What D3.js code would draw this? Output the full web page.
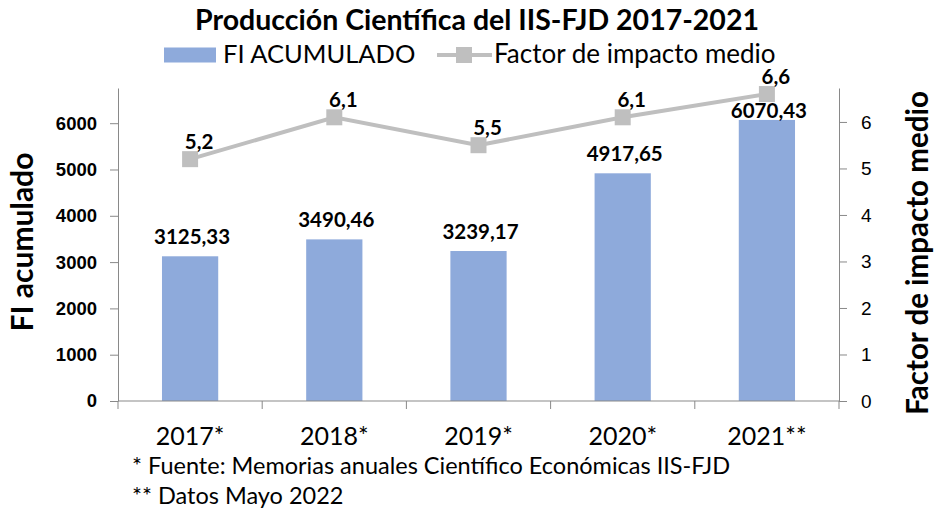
<!DOCTYPE html>
<html lang="es">
<head>
  <meta charset="UTF-8">
  <title>Producción Científica del IIS-FJD 2017-2021</title>
  <style>
    body { margin: 0; background: #fff; font-family: Lato, "Open Sans", sans-serif; }
    .axis path, .axis line { stroke: #898989; }
    .axis text { fill: #000; }
  </style>
</head>
<body>
  <svg width="936" height="519"></svg>
  <script src="https://d3js.org/d3.v7.min.js"></script>
  <script>
    const years = ["2017*", "2018*", "2019*", "2020*", "2021**"];
    const fiAcumulado = [3125.33, 3490.46, 3239.17, 4917.65, 6070.43];
    const factorMedio = [5.2, 6.1, 5.5, 6.1, 6.6];
    const leftTicks = [0, 1000, 2000, 3000, 4000, 5000, 6000];
    const rightTicks = [0, 1, 2, 3, 4, 5, 6];

    const width = 936, height = 519;
    const margin = { top: 88, right: 97, bottom: 118, left: 118 };
    const innerW = width - margin.left - margin.right;
    const innerH = height - margin.top - margin.bottom;

    const barColor = "#8eaadb", lineColor = "#bfbfbf", axisColor = "#898989";
    const fmt = v => d3.format(".2f")(v).replace(".", ",");
    const fmt1 = v => d3.format(".1f")(v).replace(".", ",");
    const markerSize = 16, labelSize = 20.5;

    const svg = d3.select("svg");
    const g = svg.append("g").attr("transform", `translate(${margin.left},${margin.top})`);

    const x = d3.scaleBand().domain(years).range([0, innerW]).paddingInner(0.61).paddingOuter(0.305);
    const xBounds = d3.scaleLinear().domain([0, years.length]).range([0, innerW]);
    const cx = d => x(d) + x.bandwidth() / 2;
    const yLeft = d3.scaleLinear().domain([0, 6760]).range([innerH, 0]);
    const yRight = d3.scaleLinear().domain([0, 6.73]).range([innerH, 0]);

    // title
    svg.append("text")
      .attr("x", 477).attr("y", 30)
      .attr("text-anchor", "middle")
      .attr("font-weight", "bold").attr("font-size", 28.5)
      .text("Producción Científica del IIS-FJD 2017-2021");

    // legend
    const lg = svg.append("g").attr("transform", "translate(164,55)");
    lg.append("rect").attr("x", 0).attr("y", -7.5).attr("width", 52).attr("height", 15).attr("fill", barColor);
    lg.append("text").attr("x", 59).attr("y", 8).attr("font-size", 25.5).text("FI ACUMULADO");
    lg.append("line").attr("x1", 273).attr("x2", 328).attr("y1", 0).attr("y2", 0)
      .attr("stroke", lineColor).attr("stroke-width", 4);
    lg.append("rect").attr("x", 300 - markerSize / 2).attr("y", -markerSize / 2)
      .attr("width", markerSize).attr("height", markerSize).attr("fill", lineColor);
    lg.append("text").attr("x", 330).attr("y", 8).attr("font-size", 26).text("Factor de impacto medio");

    // bars
    g.selectAll(".bar").data(years).join("rect")
      .attr("class", "bar")
      .attr("x", d => x(d))
      .attr("width", x.bandwidth())
      .attr("y", (d, i) => yLeft(fiAcumulado[i]))
      .attr("height", (d, i) => innerH - yLeft(fiAcumulado[i]))
      .attr("fill", barColor);

    // axes
    const xAxis = g.append("g").attr("class", "axis")
      .attr("transform", `translate(0,${innerH})`);
    xAxis.append("line").attr("x1", 0).attr("x2", innerW).attr("stroke", axisColor);
    xAxis.selectAll(".xtick").data(d3.range(years.length + 1)).join("line")
      .attr("x1", d => xBounds(d)).attr("x2", d => xBounds(d))
      .attr("y1", 0).attr("y2", 8).attr("stroke", axisColor);
    xAxis.selectAll(".xlabel").data(years).join("text")
      .attr("x", cx)
      .attr("y", 44)
      .attr("text-anchor", "middle").attr("font-size", 25)
      .text(d => d);

    g.append("g").attr("class", "axis")
      .call(d3.axisLeft(yLeft).tickValues(leftTicks).tickFormat(d3.format("d"))
        .tickSize(8).tickPadding(13).tickSizeOuter(0))
      .call(a => a.selectAll("text").attr("font-weight", "bold").attr("font-size", 18.5));

    g.append("g").attr("class", "axis")
      .attr("transform", `translate(${innerW},0)`)
      .call(d3.axisRight(yRight).tickValues(rightTicks).tickFormat(d3.format("d"))
        .tickSize(8).tickPadding(14).tickSizeOuter(0))
      .call(a => a.selectAll("text").attr("font-size", 19));

    // line series
    const line = d3.line()
      .x((d, i) => cx(years[i]))
      .y(d => yRight(d));
    g.append("path").datum(factorMedio)
      .attr("d", line).attr("fill", "none")
      .attr("stroke", lineColor).attr("stroke-width", 4);
    g.selectAll(".marker").data(factorMedio).join("rect")
      .attr("x", (d, i) => cx(years[i]) - markerSize / 2)
      .attr("y", d => yRight(d) - markerSize / 2)
      .attr("width", markerSize).attr("height", markerSize)
      .attr("fill", lineColor);
    g.selectAll(".linelabel").data(factorMedio).join("text")
      .attr("x", (d, i) => cx(years[i]) + 9)
      .attr("y", d => yRight(d) - 10)
      .attr("text-anchor", "middle")
      .attr("font-weight", "bold").attr("font-size", labelSize)
      .text(d => fmt1(d));

    // bar labels: above the bar, pushed below the marker when they would collide
    g.selectAll(".barlabel").data(years).join("text")
      .attr("class", "barlabel")
      .attr("x", d => cx(d) + 2)
      .attr("y", (d, i) => {
        const above = yLeft(fiAcumulado[i]) - 12;
        const markerBottom = yRight(factorMedio[i]) + markerSize / 2;
        return above - labelSize * 0.75 < markerBottom ? markerBottom + labelSize * 0.78 : above;
      })
      .attr("text-anchor", "middle")
      .attr("font-weight", "bold").attr("font-size", labelSize)
      .text((d, i) => fmt(fiAcumulado[i]));

    // axis titles
    svg.append("text")
      .attr("transform", "translate(33,242) rotate(-90)")
      .attr("text-anchor", "middle")
      .attr("font-weight", "bold").attr("font-size", 30)
      .text("FI acumulado");
    svg.append("text")
      .attr("transform", "translate(928,253) rotate(-90)")
      .attr("text-anchor", "middle")
      .attr("font-weight", "bold").attr("font-size", 29.5)
      .text("Factor de impacto medio");

    // footnotes
    svg.append("text").attr("x", 132).attr("y", 474).attr("font-size", 23.5)
      .text("* Fuente: Memorias anuales Científico Económicas IIS-FJD");
    svg.append("text").attr("x", 132).attr("y", 504).attr("font-size", 23.5)
      .text("** Datos Mayo 2022");
  </script>
</body>
</html>
